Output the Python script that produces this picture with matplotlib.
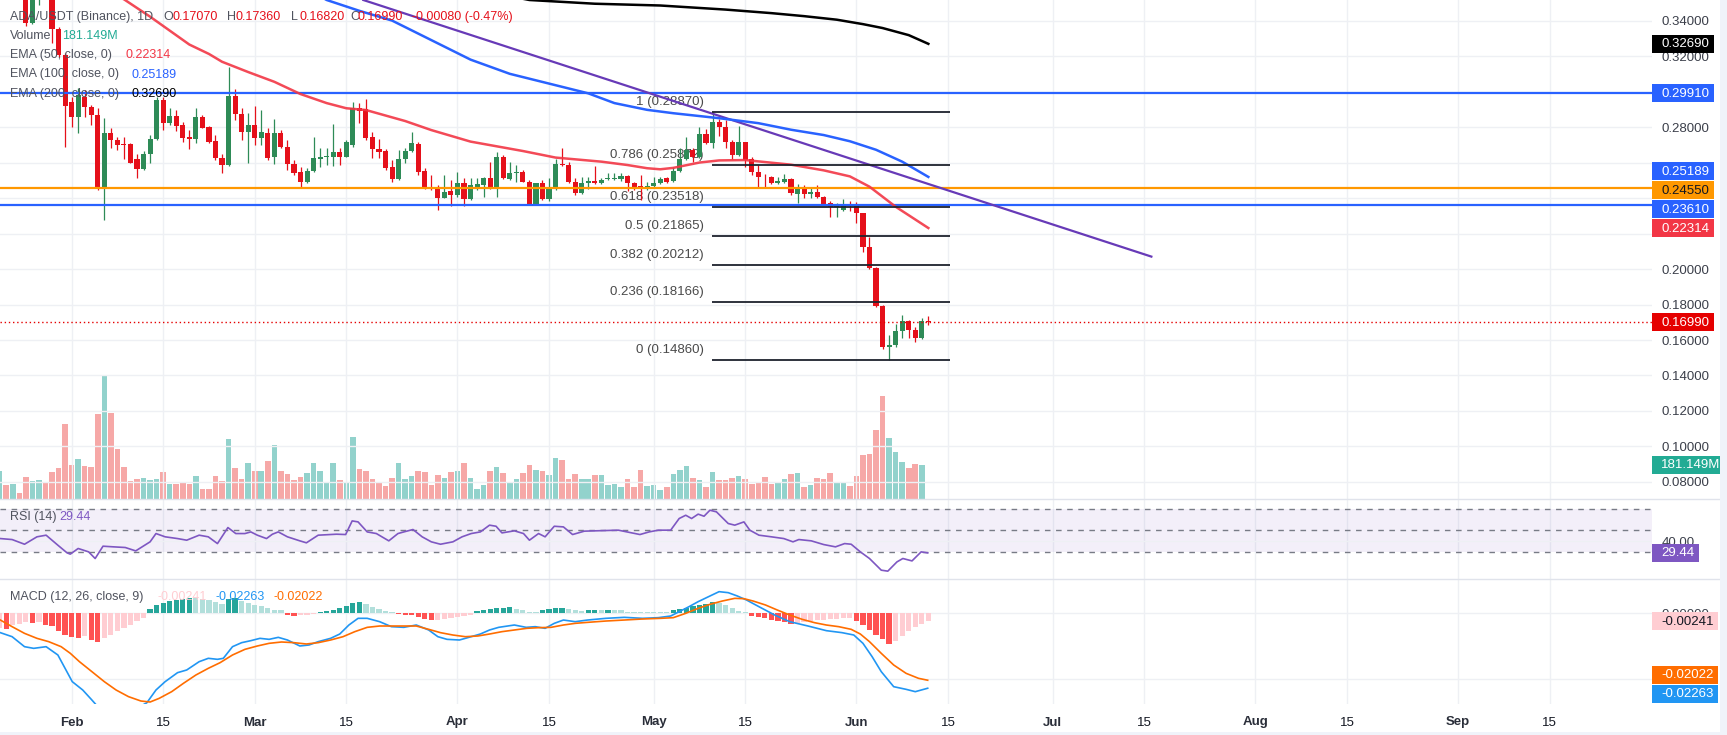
import numpy as np
import matplotlib.pyplot as plt
from matplotlib.patches import Rectangle
from matplotlib.lines import Line2D
from matplotlib.transforms import IdentityTransform

plt.rcParams['font.family'] = ['Liberation Sans', 'DejaVu Sans']

# ---------------- data (x = day number, day 0 = 1 Feb) ----------------
first_day = -11
opens = [0.3720, 0.3780, 0.3640, 0.3680, 0.3580, 0.3388, 0.3560, 0.3620, 0.3560, 0.3351, 0.3206,
         0.2943, 0.2858, 0.2971, 0.2915, 0.2868, 0.2455, 0.2765, 0.2727, 0.2705, 0.2705,
         0.2618, 0.2562, 0.2648, 0.2731, 0.2953, 0.2825, 0.2862, 0.2812, 0.2742, 0.2731,
         0.2855, 0.2802, 0.2723, 0.2624, 0.2587, 0.2975, 0.2874, 0.2774, 0.2812, 0.2737,
         0.2768, 0.2629, 0.2768, 0.2690, 0.2592, 0.2549, 0.2492, 0.2554, 0.2618, 0.2629,
         0.2633, 0.2662, 0.2633, 0.2699, 0.2909, 0.2900, 0.2742, 0.2677, 0.2667, 0.2577,
         0.2505, 0.2618, 0.2667, 0.2705, 0.2552, 0.2464, 0.2464, 0.2399, 0.2437, 0.2418,
         0.2483, 0.2394, 0.2464, 0.2473, 0.2511, 0.2460, 0.2630, 0.2505, 0.2539, 0.2545,
         0.2492, 0.2358, 0.2487, 0.2394, 0.2460, 0.2592, 0.2586, 0.2492, 0.2427, 0.2483,
         0.2498, 0.2483, 0.2505, 0.2507, 0.2505, 0.2524, 0.2483, 0.2468, 0.2449, 0.2467,
         0.2486, 0.2511, 0.2498, 0.2554, 0.2620, 0.2672, 0.2630, 0.2760, 0.2709, 0.2831,
         0.2803, 0.2716, 0.2643, 0.2713, 0.2619, 0.2549, 0.2520, 0.2520, 0.2483, 0.2492,
         0.2507, 0.2423, 0.2460, 0.2423, 0.2436, 0.2404, 0.2370, 0.2348, 0.2333, 0.2361,
         0.2361, 0.2314, 0.2126, 0.2004, 0.1792, 0.1563, 0.1572, 0.1648, 0.1709, 0.1654,
         0.1611, 0.1707]
highs = [0.3850, 0.3830, 0.3740, 0.3710, 0.3620, 0.3620, 0.3680, 0.3650, 0.3590, 0.3366, 0.3220,
         0.2971, 0.3018, 0.3009, 0.2925, 0.2906, 0.2849, 0.2793, 0.2746, 0.2746, 0.2708,
         0.2648, 0.2667, 0.2755, 0.2971, 0.2971, 0.2906, 0.2896, 0.2831, 0.2784, 0.2906,
         0.2868, 0.2806, 0.2755, 0.2648, 0.3140, 0.3013, 0.2906, 0.2881, 0.2919, 0.2896,
         0.2793, 0.2844, 0.2784, 0.2727, 0.2615, 0.2577, 0.2568, 0.2746, 0.2680, 0.2680,
         0.2817, 0.2680, 0.2727, 0.2939, 0.2937, 0.2956, 0.2774, 0.2731, 0.2675, 0.2615,
         0.2671, 0.2680, 0.2774, 0.2718, 0.2567, 0.2530, 0.2473, 0.2530, 0.2502, 0.2549,
         0.2511, 0.2511, 0.2511, 0.2520, 0.2605, 0.2662, 0.2643, 0.2605, 0.2586, 0.2558,
         0.2502, 0.2487, 0.2502, 0.2511, 0.2620, 0.2680, 0.2605, 0.2511, 0.2520, 0.2520,
         0.2581, 0.2511, 0.2539, 0.2539, 0.2543, 0.2530, 0.2492, 0.2530, 0.2490, 0.2520,
         0.2520, 0.2520, 0.2573, 0.2681, 0.2742, 0.2681, 0.2803, 0.2787, 0.2887, 0.2844,
         0.2840, 0.2727, 0.2806, 0.2716, 0.2630, 0.2586, 0.2535, 0.2524, 0.2517, 0.2535,
         0.2511, 0.2479, 0.2473, 0.2454, 0.2473, 0.2412, 0.2385, 0.2370, 0.2393, 0.2385,
         0.2380, 0.2318, 0.2183, 0.2014, 0.1796, 0.1629, 0.1691, 0.1741, 0.1713, 0.1676,
         0.1723, 0.1736]
lows = [0.3620, 0.3600, 0.3580, 0.3560, 0.3370, 0.3380, 0.3488, 0.3530, 0.3276, 0.3197, 0.2690,
        0.2802, 0.2765, 0.2858, 0.2812, 0.2446, 0.2276, 0.2680, 0.2671, 0.2618, 0.2596,
        0.2511, 0.2558, 0.2596, 0.2727, 0.2784, 0.2812, 0.2780, 0.2718, 0.2675, 0.2708,
        0.2793, 0.2708, 0.2615, 0.2543, 0.2581, 0.2840, 0.2727, 0.2600, 0.2699, 0.2699,
        0.2615, 0.2592, 0.2680, 0.2558, 0.2530, 0.2464, 0.2487, 0.2549, 0.2577, 0.2587,
        0.2581, 0.2586, 0.2630, 0.2690, 0.2825, 0.2727, 0.2628, 0.2624, 0.2558, 0.2492,
        0.2502, 0.2596, 0.2662, 0.2530, 0.2449, 0.2443, 0.2333, 0.2399, 0.2353, 0.2408,
        0.2353, 0.2390, 0.2447, 0.2405, 0.2449, 0.2405, 0.2505, 0.2502, 0.2492, 0.2489,
        0.2358, 0.2358, 0.2390, 0.2386, 0.2447, 0.2581, 0.2487, 0.2418, 0.2424, 0.2449,
        0.2479, 0.2479, 0.2502, 0.2502, 0.2498, 0.2437, 0.2447, 0.2390, 0.2445, 0.2460,
        0.2479, 0.2483, 0.2492, 0.2549, 0.2615, 0.2605, 0.2624, 0.2705, 0.2681, 0.2750,
        0.2681, 0.2619, 0.2638, 0.2577, 0.2530, 0.2464, 0.2464, 0.2479, 0.2479, 0.2483,
        0.2417, 0.2370, 0.2398, 0.2398, 0.2398, 0.2361, 0.2292, 0.2292, 0.2329, 0.2329,
        0.2258, 0.2098, 0.1999, 0.1788, 0.1548, 0.1486, 0.1563, 0.1611, 0.1611, 0.1586,
        0.1605, 0.1682]
closes = [0.3780, 0.3640, 0.3680, 0.3580, 0.3388, 0.3560, 0.3620, 0.3560, 0.3351, 0.3206, 0.2920,
          0.2858, 0.2981, 0.2915, 0.2868, 0.2455, 0.2765, 0.2727, 0.2699, 0.2701, 0.2600,
          0.2562, 0.2648, 0.2731, 0.2953, 0.2825, 0.2862, 0.2806, 0.2737, 0.2731, 0.2855,
          0.2797, 0.2718, 0.2624, 0.2587, 0.2975, 0.2874, 0.2774, 0.2812, 0.2737, 0.2774,
          0.2624, 0.2768, 0.2690, 0.2592, 0.2543, 0.2492, 0.2554, 0.2626, 0.2633, 0.2637,
          0.2662, 0.2633, 0.2718, 0.2909, 0.2892, 0.2740, 0.2675, 0.2662, 0.2571, 0.2505,
          0.2620, 0.2667, 0.2712, 0.2549, 0.2460, 0.2457, 0.2399, 0.2433, 0.2418, 0.2483,
          0.2394, 0.2473, 0.2479, 0.2511, 0.2460, 0.2630, 0.2511, 0.2539, 0.2545, 0.2492,
          0.2358, 0.2487, 0.2394, 0.2460, 0.2592, 0.2584, 0.2492, 0.2427, 0.2483, 0.2498,
          0.2483, 0.2502, 0.2511, 0.2513, 0.2524, 0.2483, 0.2464, 0.2449, 0.2468, 0.2483,
          0.2505, 0.2492, 0.2554, 0.2620, 0.2672, 0.2630, 0.2760, 0.2709, 0.2831, 0.2803,
          0.2713, 0.2643, 0.2713, 0.2615, 0.2549, 0.2517, 0.2517, 0.2483, 0.2498, 0.2507,
          0.2427, 0.2460, 0.2423, 0.2436, 0.2404, 0.2367, 0.2348, 0.2355, 0.2361, 0.2355,
          0.2314, 0.2126, 0.2004, 0.1792, 0.1563, 0.1572, 0.1648, 0.1709, 0.1654, 0.1611,
          0.1707, 0.1699]
# volume in millions (bar of the newest candle not drawn yet)
volume_m = [151, 75, 80, 34, 119, 98, 101, 92, 146, 167, 400,
            181, 213, 176, 170, 453, 661, 458, 266, 170, 96,
            107, 112, 103, 107, 144, 80, 80, 85, 80, 123,
            53, 53, 123, 96, 320, 165, 107, 192, 149, 149,
            202, 288, 149, 133, 101, 117, 139, 192, 149, 91,
            192, 101, 91, 330, 160, 149, 107, 85, 69, 112,
            192, 107, 123, 149, 144, 75, 128, 112, 144, 149,
            192, 112, 53, 75, 149, 170, 139, 91, 107, 139,
            181, 155, 149, 128, 218, 208, 107, 133, 107, 107,
            128, 128, 75, 80, 64, 107, 64, 155, 69, 75,
            48, 64, 133, 155, 176, 112, 101, 64, 144, 101,
            101, 112, 123, 107, 80, 85, 117, 80, 85, 107,
            133, 139, 64, 75, 112, 107, 139, 85, 85, 69,
            123, 234, 240, 368, 549, 325, 250, 197, 165, 186,
            181.149, np.nan]

ema50_day = [5, 8, 12, 18, 21, 23, 27, 31, 35, 39, 42, 45, 51, 55, 61, 69, 74, 81, 85, 88,
             90, 92, 96, 99, 103, 110, 115, 119, 122, 126, 131]
ema50_val = [0.3570, 0.3520, 0.3422, 0.3265, 0.3212, 0.3168, 0.3110, 0.3055, 0.2986, 0.2935,
             0.2906, 0.2896, 0.2834, 0.2783, 0.2718, 0.2665, 0.2628, 0.2605, 0.2586, 0.2568,
             0.2562, 0.2570, 0.2600, 0.2612, 0.2614, 0.2588, 0.2556, 0.2522, 0.2464, 0.2351, 0.2231]
ema100_day = [36, 39, 44, 49, 55, 61, 67, 73, 79, 83, 88, 92, 99, 105, 110, 115, 119, 123, 127, 131]
ema100_val = [0.3580, 0.3516, 0.3455, 0.3400, 0.3290, 0.3180, 0.3100, 0.3045, 0.2990, 0.2935,
              0.2897, 0.2878, 0.2850, 0.2822, 0.2785, 0.2755, 0.2720, 0.2672, 0.2605, 0.2519]
ema200_day = [68, 70, 80, 90, 100, 107, 112, 117, 121, 124, 128, 131]
ema200_val = [0.3530, 0.3516, 0.3495, 0.3485, 0.3462, 0.3442, 0.3425, 0.3405, 0.3380, 0.3358,
              0.3318, 0.3269]

trend_day = [44.6, 165.1]
trend_val = [0.3516, 0.2070]
blue_levels = [0.2991, 0.2361]
orange_level = 0.2455
last_close = 0.1699

fib_ratio = ['1', '0.786', '0.618', '0.5', '0.382', '0.236', '0']
fib_price = [0.2887, 0.25872, 0.23518, 0.21865, 0.20212, 0.18166, 0.1486]
fib_span = [97.9, 134.3]

rsi_day = [-10.9, -9.1, -7.2, -5.3, -3.9, -2.1, -0.7, -0.2, 1.0, 2.6, 3.6, 4.8, 6.4, 8.2, 9.8,
           12.0, 12.9, 14.3, 16.2, 17.6, 19.5, 20.9, 22.3, 23.9, 25.1, 26.5, 27.4, 28.4, 29.8,
           30.7, 31.6, 33.0, 34.9, 35.9, 37.7, 40.5, 41.9, 42.9, 43.8, 45.2, 46.6, 48.5, 49.9,
           50.8, 52.2, 53.6, 55.0, 56.4, 58.3, 59.7, 61.1, 62.5, 63.9, 64.9, 65.8, 67.7, 69.1,
           70.0, 71.4, 72.4, 73.8, 75.2, 76.6, 78.4, 83.6, 86.9, 88.3, 89.7, 91.6, 92.9, 93.9,
           94.8, 95.8, 96.7, 97.6, 98.6, 100.4, 101.4, 102.8, 103.7, 105.1, 107.0, 108.9, 110.3,
           111.2, 113.1, 115.0, 116.8, 118.2, 119.2, 120.6, 122.0, 123.8, 124.8, 126.2, 127.1,
           128.5, 129.9, 130.9]
rsi_val = [42.6, 41.7, 37.4, 44.2, 45.7, 36.5, 29.5, 28.3, 33.5, 30.4, 24.3, 35.6, 35.0, 34.4, 31.3,
           39.6, 47.2, 44.2, 42.6, 41.1, 45.7, 44.2, 38.0, 52.7, 47.2, 47.2, 48.7, 45.7, 42.6,
           46.6, 48.7, 44.2, 40.5, 38.7, 45.7, 46.6, 46.3, 58.8, 57.9, 48.7, 47.2, 40.5, 47.2,
           48.7, 50.9, 44.2, 39.6, 37.4, 39.6, 44.2, 47.2, 48.7, 54.9, 53.9, 47.8, 49.7, 47.2,
           41.1, 47.2, 44.2, 53.9, 53.3, 46.3, 49.4, 50.3, 46.3, 48.7, 50.3, 50.3, 61.0, 64.0,
           61.0, 65.0, 63.1, 68.6, 67.1, 56.4, 54.9, 57.9, 50.3, 45.7, 44.2, 42.6, 39.6,
           41.7, 40.5, 37.1, 35.0, 38.0, 37.4, 30.4, 24.3, 13.6, 12.7, 21.2, 24.3,
           22.1, 30.4, 29.44]

macd_day = [-10.9, -9.1, -7.2, -5.8, -3.9, -2.1, 0.1, 1.7, 3.1, 4.0, 5.9, 8.2, 10.1, 11.5, 12.9,
            14.3, 16.2, 17.6, 19.5, 20.9, 22.3, 23.2, 24.6, 26.0, 27.4, 28.8, 30.2, 31.6, 33.0,
            34.9, 36.3, 37.7, 39.6, 41.0, 42.4, 43.8, 45.2, 47.1, 48.9, 50.8, 52.7, 54.6, 56.0,
            57.4, 59.3, 61.1, 62.5, 63.9, 65.3, 67.7, 69.5, 70.9, 72.4, 73.8, 75.2, 77.0, 78.9,
            81.7, 84.5, 87.3, 89.7, 91.6, 92.9, 94.4, 95.8, 97.6, 99.0, 100.4, 101.8, 103.2,
            105.1, 107.5, 109.8, 112.6, 115.4, 117.8, 119.6, 121.0, 122.4, 123.8, 125.7, 127.6,
            129.0, 130.9]
macd_val = [-0.00591, -0.00712, -0.01013, -0.01063, -0.01013, -0.01263, -0.02065, -0.02316,
            -0.02617, -0.02817, -0.0290, -0.0295, -0.0285, -0.0270, -0.02316, -0.02065, -0.01794,
            -0.01714, -0.01464, -0.01363, -0.01393, -0.01363, -0.01013, -0.00892, -0.00832,
            -0.00762, -0.00792, -0.00732, -0.00812, -0.00992, -0.00962, -0.00862, -0.00762,
            -0.00632, -0.00361, -0.00160, -0.00160, -0.00261, -0.00411, -0.00431, -0.00361,
            -0.00511, -0.00712, -0.00792, -0.00812, -0.00712, -0.00632, -0.00511, -0.00431,
            -0.00361, -0.00431, -0.00411, -0.00461, -0.00311, -0.00211, -0.00261, -0.00211,
            -0.00160, -0.00130, -0.00160, -0.00140, -0.00090, 0.00040, 0.00190, 0.00341, 0.00511,
            0.00642, 0.00612, 0.00511, 0.00391, 0.00190, -0.00060, -0.00261, -0.00391, -0.00531,
            -0.00591, -0.00662, -0.00912, -0.01313, -0.01764, -0.02216, -0.02296, -0.02366,
            -0.02263]
signal_day = [-10.9, -9.1, -7.2, -5.3, -3.5, -1.6, -0.2, 1.2, 3.1, 5.0, 6.8, 8.7, 10.6, 12.0,
              13.4, 15.3, 17.1, 19.0, 20.9, 22.7, 24.6, 26.5, 28.4, 30.2, 32.1, 34.0, 35.9, 37.7,
              39.6, 41.5, 43.3, 45.2, 47.1, 49.0, 50.8, 52.7, 54.6, 56.4, 58.3, 60.2, 62.1, 63.9,
              65.8, 67.7, 69.6, 71.4, 73.3, 75.2, 77.0, 78.9, 81.7, 84.5, 87.3, 90.1, 92.0, 93.9,
              95.8, 97.6, 99.5, 101.4, 102.8, 104.2, 106.1, 107.9, 109.8, 111.7, 113.6, 115.4,
              117.3, 119.2, 120.6, 122.0, 123.8, 125.7, 127.6, 129.5, 130.9]
signal_val = [-0.00211, -0.00411, -0.00612, -0.00762, -0.00862, -0.01013, -0.01213, -0.01464,
              -0.01764, -0.02065, -0.02316, -0.02516, -0.02647, -0.02677, -0.02566, -0.02366,
              -0.02115, -0.01865, -0.01664, -0.01494, -0.01263, -0.01093, -0.00992, -0.00912,
              -0.00872, -0.00892, -0.00932, -0.00892, -0.00812, -0.00712, -0.00561, -0.00431,
              -0.00391, -0.00391, -0.00391, -0.00391, -0.00491, -0.00591, -0.00662, -0.00712,
              -0.00692, -0.00632, -0.00561, -0.00511, -0.00461, -0.00441, -0.00431, -0.00361,
              -0.00311, -0.00281, -0.00241, -0.00211, -0.00180, -0.00160, -0.00140, -0.00010,
              0.00140, 0.00261, 0.00361, 0.00441, 0.00431, 0.00361, 0.00241, 0.00090, -0.00060,
              -0.00190, -0.00291, -0.00361, -0.00411, -0.00491, -0.00632, -0.00862, -0.01213,
              -0.01564, -0.01815, -0.01965, -0.02022]
# histogram, one bar per candle, in 1e-3
hist_k = [-4.5, -4.8, -3.5, -3.2, -2.8, -3.0, -2.8, -3.5, -4.0, -5.5, -6.5,
          -7.2, -7.5, -7.0, -8.2, -8.6, -7.5, -6.5, -5.5, -4.5, -3.5,
          -2.5, -1.5, 1.2, 2.5, 3.0, 3.5, 4.0, 4.2, 4.6, 4.6,
          4.2, 3.8, 3.2, 2.8, 4.2, 4.5, 3.5, 3.0, 2.5, 2.0,
          1.5, 1.0, 0.8, -0.6, -0.8, -0.6, -0.5, -0.3, 0.2, 0.6,
          1.0, 1.5, 2.2, 3.0, 3.2, 2.6, 1.8, 1.2, 0.5, 0.2,
          -0.4, -0.5, -0.6, -1.2, -1.8, -2.2, -2.0, -1.8, -1.5, -1.2,
          -0.9, -0.6, 0.5, 0.8, 1.2, 1.5, 1.6, 1.8, 1.2, 0.8,
          0.4, 0.3, 0.9, 1.2, 1.5, 1.6, 1.1, 0.9, 0.7, 0.8,
          0.9, 0.8, 0.9, 0.9, 0.8, 0.4, 0.3, 0.2, 0.2, 0.2,
          0.2, 0.2, 0.8, 1.2, 1.6, 2.0, 2.4, 2.8, 3.2, 3.0,
          2.5, 1.5, 0.7, 0.2, -0.8, -1.2, -1.6, -2.0, -2.4, -2.8,
          -3.2, -3.0, -2.8, -2.5, -2.2, -2.0, -1.8, -1.7, -1.6, -1.5,
          -2.5, -3.5, -5.0, -6.5, -7.8, -9.2, -8.5, -7.0, -5.5, -4.2,
          -3.2, -2.41]

tick_days = [0, 14, 28, 42, 59, 73, 89, 103, 120, 134, 150, 164, 181, 195, 212, 226]
tick_labels = ['Feb', '15', 'Mar', '15', 'Apr', '15', 'May', '15', 'Jun', '15',
               'Jul', '15', 'Aug', '15', 'Sep', '15']
price_ticks = [0.34, 0.32, 0.28, 0.20, 0.18, 0.16, 0.14, 0.12, 0.10, 0.08]

# ---------------- layout ----------------
W, H = 1727, 735
RIGHT = 1652
GREEN, RED = '#2E8B57', '#E5101A'
GRID = '#EEF0F4'
TXT = '#3B3F4A'
GRAY = '#50535E'
LEG = 9.0

fig = plt.figure(figsize=(W / 100, H / 100), dpi=100)


def panel(top, bottom):
    return fig.add_axes([0, 1 - bottom / H, RIGHT / W, (bottom - top) / H])


axv = panel(0, 499)
ax = panel(0, 499)
ax.patch.set_alpha(0)
ax_rsi = panel(499, 579)
ax_macd = panel(579, 704)

for a in (axv, ax, ax_rsi, ax_macd):
    a.set_xlim(-10.95, 241.65)
    for s in a.spines.values():
        s.set_visible(False)
    a.tick_params(length=0)
    a.set_xticks([])
for a in (ax, ax_rsi, ax_macd):
    for d in tick_days:
        a.axvline(d, color=GRID, lw=1, zorder=0)

days = np.arange(first_day, first_day + len(opens))
o, h_, l_, c = map(np.array, (opens, highs, lows, closes))
up = c >= o
cols = np.where(up, GREEN, RED)

# volume
vol = np.array(volume_m, dtype=float)
ok = ~np.isnan(vol)
vcols = np.where(up, '#26A69A', '#EF5350')
axv.bar(days[ok], vol[ok], 0.85, color=vcols[ok], alpha=0.5, lw=0)
axv.set_ylim(0, 181.149 * 499 / 34)
axv.set_yticks([])

# price panel
ax.set_ylim(0.0704, 0.3516)
for p in np.arange(0.08, 0.35, 0.02):
    ax.axhline(p, color=GRID, lw=1, zorder=0)
ax.yaxis.tick_right()
ax.set_yticks(price_ticks, [f'{p:.5f}' for p in price_ticks])
ax.tick_params(axis='y', pad=7, labelsize=9.5, labelcolor=TXT)

ax.vlines(days, l_, h_, color=cols, lw=0.9, zorder=3)
ax.bar(days, np.maximum(np.abs(c - o), 0.0004), 0.78, bottom=np.minimum(o, c),
       color=cols, lw=0, zorder=3)

ax.axhline(orange_level, color='#FF9800', lw=1.6, zorder=4)
for lv in blue_levels:
    ax.axhline(lv, color='#2962FF', lw=1.6, zorder=4)
ax.axhline(last_close, color='#E50000', lw=1, ls=(0, (1, 2)), zorder=4)
ax.plot(trend_day, trend_val, color='#673AB7', lw=1.6, zorder=4)
ax.plot(ema50_day, ema50_val, color='#F23645', lw=1.8, alpha=0.9, zorder=4)
ax.plot(ema100_day, ema100_val, color='#2962FF', lw=1.8, zorder=4)
ax.plot(ema200_day, ema200_val, color='black', lw=1.8, zorder=4)

for r, p in zip(fib_ratio, fib_price):
    ax.hlines(p, *fib_span, color='#1E222D', lw=1.3, zorder=4)
    ax.annotate(f'{r} ({p:.5f})', xy=(fib_span[0], p), xytext=(-8, 10),
                textcoords='offset pixels', ha='right', va='center',
                fontsize=9.5, color='#4A4A4A', zorder=2)

# RSI panel
ax_rsi.set_ylim(5.5, 78.9)
ax_rsi.axhspan(30, 70, color='#7E57C2', alpha=0.09, lw=0, zorder=0)
ax_rsi.axhline(40, color=GRID, lw=1, zorder=0)
for lv in (70, 50, 30):
    ax_rsi.axhline(lv, color='#787B86', lw=1, ls=(0, (4, 4)), zorder=1)
ax_rsi.plot(rsi_day, rsi_val, color='#7E57C2', lw=1.2, zorder=3)
ax_rsi.yaxis.tick_right()
ax_rsi.set_yticks([40], ['40.00'])
ax_rsi.tick_params(axis='y', pad=7, labelsize=9.5, labelcolor=TXT)

# MACD panel
ax_macd.set_ylim(-0.02737, 0.01023)
for lv in (0, -0.02):
    ax_macd.axhline(lv, color=GRID, lw=1, zorder=0)
hist = np.array(hist_k) / 1000
prev = np.concatenate([[hist[0]], hist[:-1]])
hcols = np.where(hist >= 0, np.where(hist > prev, '#26A69A', '#B2DFDB'),
                 np.where(hist < prev, '#FF5252', '#FFCDD2'))
ax_macd.bar(days, hist, 0.8, color=hcols, lw=0, zorder=2)
ax_macd.plot(macd_day, macd_val, color='#2196F3', lw=1.2, zorder=3)
ax_macd.plot(signal_day, signal_val, color='#FF6D00', lw=1.2, zorder=3)
ax_macd.yaxis.tick_right()
ax_macd.set_yticks([0], ['0.00000'])
ax_macd.tick_params(axis='y', pad=7, labelsize=9.5, labelcolor=TXT)
ax_macd.set_xticks(tick_days, tick_labels)
ax_macd.tick_params(axis='x', pad=9, labelsize=9.5, labelcolor='#131722')
for lbl, t in zip(ax_macd.get_xticklabels(), tick_labels):
    if not t.isdigit():
        lbl.set_fontweight('bold')
        lbl.set_color('#2A2E39')

# ---------------- scale tags ----------------
ID = IdentityTransform()


def tags(axis, items, width=62, hh=18):
    ys = np.array([axis.transData.transform((0, it[0]))[1] for it in items])
    order = np.argsort(-ys)
    y = ys[order].copy()
    for _ in range(200):
        moved = False
        for i in range(len(y) - 1):
            gap = y[i] - y[i + 1]
            if gap < hh + 1:
                d = (hh + 1 - gap) / 2
                y[i] += d
                y[i + 1] -= d
                moved = True
        if not moved:
            break
    for k, idx in enumerate(order):
        val, txt, fc, tc = items[idx][:4]
        w = items[idx][4] if len(items[idx]) > 4 else width
        fig.add_artist(Rectangle((RIGHT, y[k] - hh / 2), w, hh, transform=ID,
                                 fc=fc, ec='none', zorder=5))
        fig.text(RIGHT + 9, y[k] - 0.5, txt, transform=ID, color=tc, fontsize=9.5,
                 ha='left', va='center', zorder=6)


tags(ax, [(0.3269, '0.32690', '#000000', 'white'),
          (0.2991, '0.29910', '#2962FF', 'white'),
          (0.25189, '0.25189', '#2962FF', 'white'),
          (0.2455, '0.24550', '#FF9800', '#131722'),
          (0.2361, '0.23610', '#2962FF', 'white'),
          (0.22314, '0.22314', '#F23645', 'white'),
          (last_close, '0.16990', '#E50000', 'white')])
tags(axv, [(181.149, '181.149M', '#22AB94', 'white', 68)])
tags(ax_rsi, [(29.44, '29.44', '#7E57C2', 'white', 47)])
tags(ax_macd, [(-0.00241, '-0.00241', '#FFCDD2', '#131722', 66),
               (-0.02022, '-0.02022', '#FF6D00', 'white', 66),
               (-0.02263, '-0.02263', '#2196F3', 'white', 66)])

# ---------------- legends ----------------


def say(x, y, s, color=GRAY):
    fig.text(x, H - y, s, transform=ID, color=color, fontsize=LEG, ha='left',
             va='center', zorder=7)


say(10, 17, 'ADA/USDT (Binance), 1D')
for x, s, col in [(163.5, 'O', GRAY), (172.5, '0.17070', RED), (227.5, 'H', GRAY),
                  (236, '0.17360', RED), (291, 'L', GRAY), (299, '0.16820', RED),
                  (350, 'C', GRAY), (358, '0.16990', RED), (412.5, '-0.00080 (-0.47%)', RED)]:
    say(x, 17, s, col)
say(10, 36, 'Volume')
say(62.5, 36, '181.149M', '#22AB94')
say(10, 55, 'EMA (50, close, 0)')
say(125.5, 55, '0.22314', '#F23645')
say(10, 74.5, 'EMA (100, close, 0)')
say(132, 74.5, '0.25189', '#2962FF')
say(10, 94, 'EMA (200, close, 0)')
say(132, 94, '0.32690', 'black')
say(10, 517, 'RSI (14)')
say(59, 517, '29.44', '#7E57C2')
say(10, 597, 'MACD (12, 26, close, 9)')
say(158, 597, '-0.00241', '#FFCDD2')
say(215.5, 597, '-0.02263', '#2196F3')
say(273.5, 597, '-0.02022', '#FF6D00')

# separators and outer frame
for yy in (499, 579):
    fig.add_artist(Line2D([0, 1720], [H - yy, H - yy], transform=ID, color='#E0E3EB', lw=1))
fig.add_artist(Rectangle((1720, 0), 7, H, transform=ID, fc='#F0F3FA', ec='none', zorder=8))
fig.add_artist(Rectangle((0, 0), W, 3, transform=ID, fc='#F0F3FA', ec='none', zorder=8))

fig.savefig('out.png', dpi=100)
